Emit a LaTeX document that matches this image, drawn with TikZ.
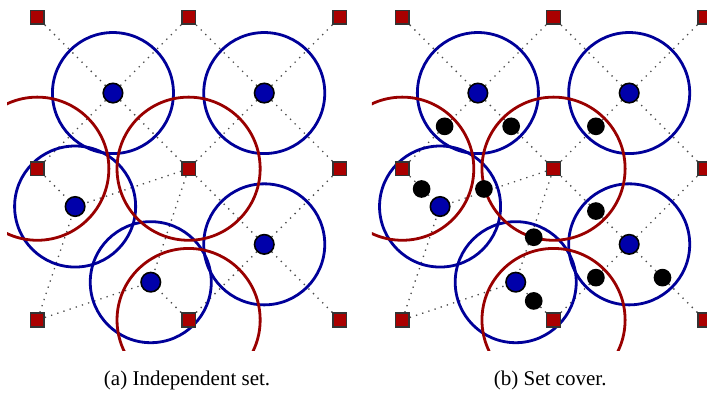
\documentclass[tikz,border=0pt]{standalone}
\usepackage{fontspec}
\setmainfont{Liberation Serif}
\usetikzlibrary{positioning, backgrounds}
\definecolor{setred}{HTML}{AA0000}
\definecolor{ringred}{HTML}{990000}
\definecolor{setblue}{HTML}{0000AA}
\definecolor{ringblue}{HTML}{000099}
\tikzset{
  site/.style     = {rectangle, draw=black!80, line width=1.5pt, fill=setred,
                     minimum size=13.6pt, inner sep=0pt},
  hub/.style      = {circle, draw=black, line width=1.6pt, fill=setblue,
                     minimum size=19.5pt, inner sep=0pt},
  elem/.style     = {circle, fill=black, minimum size=17.7pt, inner sep=0pt},
  link/.style     = {draw=black!70, line width=1.3pt, dash pattern=on 1.3pt off 5.2pt},
  bluering/.style = {draw=ringblue, line width=2.8pt},
  redring/.style  = {draw=ringred, line width=2.8pt},
  caption/.style  = {font=\fontsize{21}{25}\selectfont, anchor=base},
}

\begin{document}
\begin{tikzpicture}[x=151.3pt, y=151.3pt]

  \useasboundingbox (-0.2465,-0.4891) rectangle (4.4263,2.115);

  \foreach \p/\dx in {L/0, R/2.412} {
    \begin{scope}[shift={(\dx,0)}]
      % red sites on the grid
      \foreach \i in {0,1,2}
        \foreach \j in {0,1,2}
          \node[site] (\p-\i\j) at (\i,\j) {};
      % blue centres
      \node[hub] (\p-h1) at (0.5,1.5) {};
      \node[hub] (\p-h2) at (1.5,1.5) {};
      \node[hub] (\p-h3) at (0.25,0.75) {};
      \node[hub] (\p-h4) at (1.5,0.5) {};
      \node[hub] (\p-h5) at (0.75,0.25) {};

      \begin{scope}[on background layer]
        \begin{scope}
          \clip (-0.2,-0.2) rectangle (2.2,2.2);
          \foreach \h/\s in {h1/02, h1/12, h1/01, h1/11,
                             h2/12, h2/22, h2/11, h2/21,
                             h3/01, h3/11, h3/00,
                             h4/11, h4/21, h4/10, h4/20,
                             h5/00, h5/10, h5/11}
            \draw[link] (\p-\s) -- (\p-\h);
          \foreach \h in {h1,h2,h3,h4,h5}
            \draw[bluering] (\p-\h) circle[radius=0.4];
          \foreach \s in {01,11,10}
            \draw[redring] (\p-\s) circle[radius=0.473];
        \end{scope}
      \end{scope}
    \end{scope}
  }

  % elements of the set cover instance
  \begin{scope}[shift={(2.412,0)}]
    \node[elem] (e1) at (0.28,1.28) {};
    \node[elem] (e2) at (0.72,1.28) {};
    \node[elem] (e3) at (1.28,1.28) {};
    \node[elem] (e4) at (0.128,0.866) {};
    \node[elem] (e5) at (0.54,0.866) {};
    \node[elem] (e6) at (1.28,0.72) {};
    \node[elem] (e7) at (0.869,0.547) {};
    \node[elem] (e8) at (1.28,0.28) {};
    \node[elem] (e9) at (1.72,0.28) {};
    \node[elem] (e10) at (0.869,0.126) {};
  \end{scope}

  \node[caption] (capa) at (0.99,-0.434) {(a) Independent set.};
  \node[caption] (capb) at (3.39,-0.434) {(b) Set cover.};

\end{tikzpicture}
\end{document}
